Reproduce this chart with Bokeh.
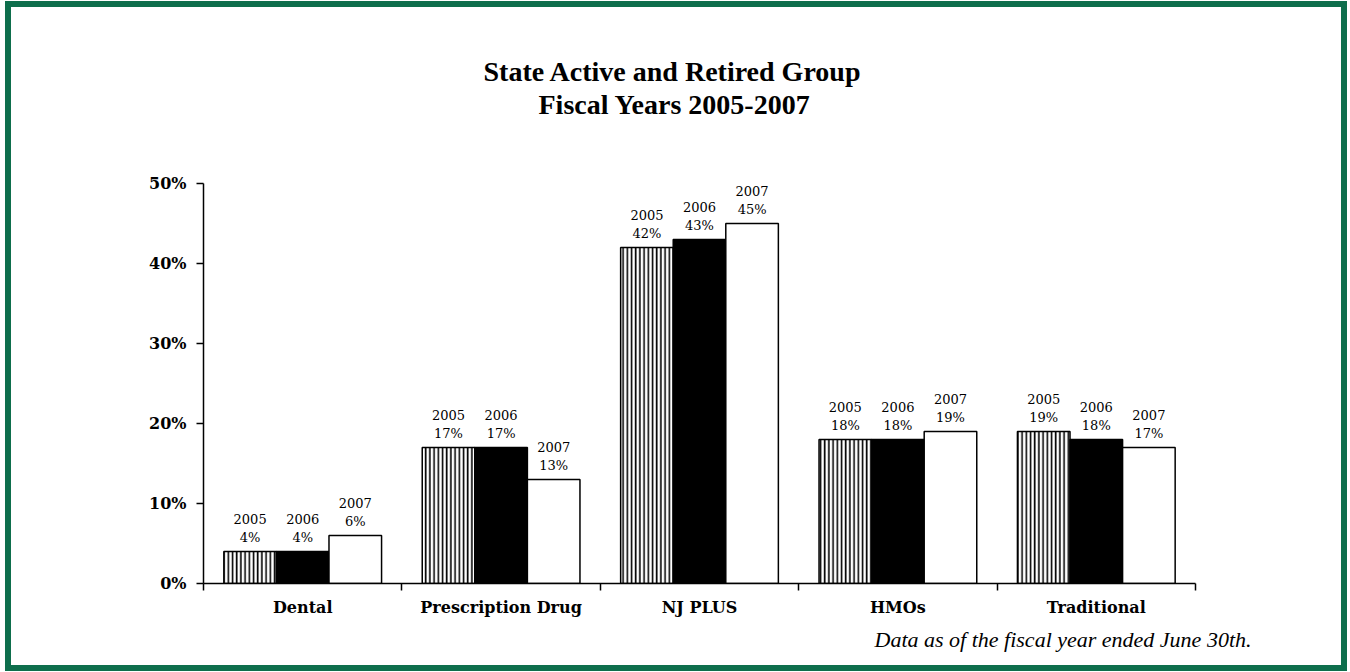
from bokeh.plotting import figure
from bokeh.models import (ColumnDataSource, FixedTicker, PrintfTickFormatter, Title, LabelSet, Range1d)
from bokeh.core.properties import value
from bokeh.embed import file_html
from bokeh.resources import INLINE

categories = ["Dental", "Prescription Drug", "NJ PLUS", "HMOs", "Traditional"]
years = ["2005", "2006", "2007"]
v2005 = [4, 17, 42, 18, 19]
v2006 = [4, 17, 43, 18, 18]
v2007 = [6, 13, 45, 19, 17]
y_ticks = [0, 10, 20, 30, 40, 50]
title_lines = ["State Active and Retired Group", "Fiscal Years 2005-2007"]
footnote = "Data as of the fiscal year ended June 30th."

SERIF = "Liberation Serif"
WIDE = "DejaVu Serif"
GREEN = "#0e6e4c"
BW = 0.265

W, H = 1342, 670
p = figure(width=W, height=H, output_backend="svg", toolbar_location=None,
           x_range=Range1d(0, 5), y_range=Range1d(0, 50),
           min_border_left=192, min_border_right=158, min_border_top=176, min_border_bottom=94)
p.styles = {"border": f"6px solid {GREEN}", "box-sizing": "border-box",
            "margin-left": "5px", "margin-top": "1px"}
p.outline_line_color = None
p.xgrid.grid_line_color = None
p.ygrid.grid_line_color = None
p.background_fill_color = "white"
p.border_fill_color = "white"

series = [(v2005, -BW, "white", "|"), (v2006, 0.0, "black", None), (v2007, BW, "white", None)]
for vals, off, fill, hatch in series:
    xs = [i + 0.5 + off for i in range(len(categories))]
    src = ColumnDataSource(dict(x=xs, top=vals))
    kw = {}
    if hatch:
        kw = dict(hatch_pattern=hatch, hatch_color="black", hatch_scale=4.2, hatch_weight=1.6)
    p.vbar(x="x", top="top", width=BW, bottom=0, source=src, fill_color=fill,
           line_color="black", line_width=1.5, **kw)

for yr, vals, off in zip(years, [v2005, v2006, v2007], [-BW, 0.0, BW]):
    xs = [i + 0.5 + off for i in range(len(categories))]
    src = ColumnDataSource(dict(x=xs, y=vals, yr=[yr] * len(vals),
                                pct=[f"{v}%" for v in vals]))
    p.add_layout(LabelSet(x="x", y="y", text="yr", source=src, y_offset=28,
                          text_align="center", text_baseline="alphabetic",
                          text_font=value(WIDE), text_font_size="13px", text_color="black"))
    p.add_layout(LabelSet(x="x", y="y", text="pct", source=src, y_offset=10,
                          text_align="center", text_baseline="alphabetic",
                          text_font=value(WIDE), text_font_size="13px", text_color="black"))

# y axis
yax = p.yaxis[0]
yax.ticker = FixedTicker(ticks=y_ticks)
yax.formatter = PrintfTickFormatter(format="%d%%")
yax.major_label_text_font = WIDE
yax.major_label_text_font_style = "bold"
yax.major_label_text_font_size = "16px"
yax.major_label_text_color = "black"
yax.major_tick_in = 0
yax.major_tick_out = 7
yax.minor_tick_line_color = None
yax.axis_line_width = 1.5
yax.major_tick_line_width = 1.5
yax.major_label_standoff = 10

# x axis
xax = p.xaxis[0]
xax.ticker = FixedTicker(ticks=[i + 0.5 for i in range(len(categories))],
                         minor_ticks=list(range(len(categories) + 1)))
xax.major_label_overrides = {i + 0.5: c for i, c in enumerate(categories)}
xax.major_tick_in = 0
xax.major_tick_out = 0
xax.minor_tick_in = 0
xax.minor_tick_out = 7
xax.minor_tick_line_width = 1.5
xax.minor_tick_line_color = "black"
xax.axis_line_width = 1.5
xax.major_label_text_font = WIDE
xax.major_label_text_font_style = "bold"
xax.major_label_text_font_size = "16px"
xax.major_label_text_color = "black"
xax.major_label_standoff = 7

# titles: spacer nearest the frame, then line 2, then line 1
p.add_layout(Title(text=" ", text_font_size="2px", standoff=60), "above")
p.add_layout(Title(text=title_lines[1], align="left", offset=335, text_font=SERIF,
                   text_font_size="28px", text_font_style="bold", text_color="black",
                   standoff=0), "above")
p.add_layout(Title(text=title_lines[0], align="left", offset=280, text_font=SERIF,
                   text_font_size="28px", text_font_style="bold", text_color="black",
                   standoff=0), "above")
p.add_layout(Title(text=footnote, align="right", offset=-56, text_font=SERIF,
                   text_font_size="22px", text_font_style="italic", text_color="black",
                   standoff=10), "below")

open("out.html", "w").write(file_html(p, INLINE))
